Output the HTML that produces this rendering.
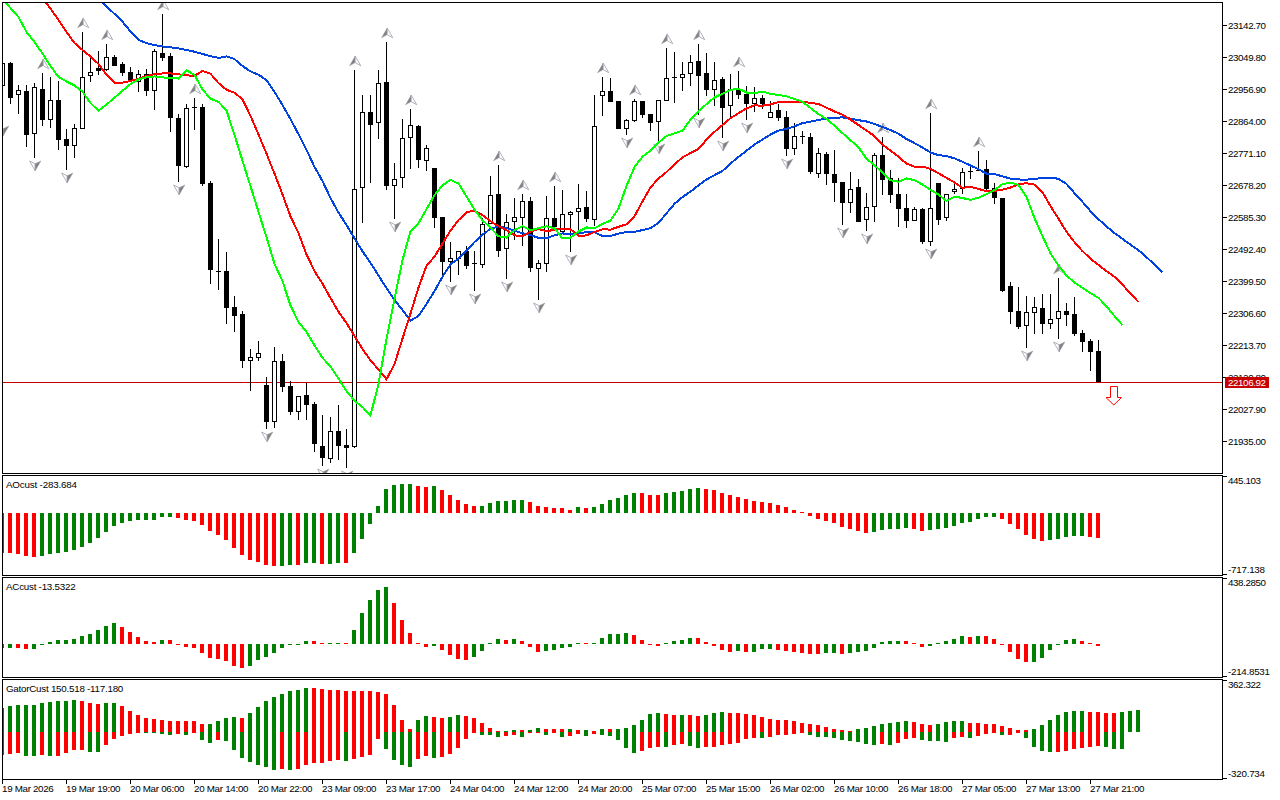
<!DOCTYPE html><html><head><meta charset="utf-8"><title>Chart</title><style>html,body{margin:0;padding:0;background:#fff;overflow:hidden}svg{display:block}text{font-family:"Liberation Sans",sans-serif;font-size:9.8px;fill:#000}</style></head><body>
<svg width="1280" height="800" viewBox="0 0 1280 800">
<rect x="0" y="0" width="1280" height="800" fill="#fff"/>
<g shape-rendering="crispEdges">
<defs><clipPath id="cm"><rect x="3" y="3" width="1219" height="470"/></clipPath><clipPath id="c1"><rect x="3" y="476" width="1219" height="99"/></clipPath><clipPath id="c2"><rect x="3" y="578" width="1219" height="99"/></clipPath><clipPath id="c3"><rect x="3" y="680" width="1219" height="99"/></clipPath></defs>
<g clip-path="url(#cm)">
<rect x="3" y="382" width="1219" height="1" fill="#c80000"/>
<g fill="#000"><rect x="2" y="60" width="1" height="63"/><rect x="0" y="63" width="5" height="23"/><rect x="1" y="64" width="3" height="21" fill="#fff"/><rect x="10" y="62" width="1" height="42"/><rect x="8" y="63" width="5" height="35"/><rect x="18" y="85" width="1" height="29"/><rect x="16" y="90" width="5" height="5"/><rect x="17" y="91" width="3" height="3" fill="#fff"/><rect x="26" y="85" width="1" height="62"/><rect x="24" y="91" width="5" height="44"/><rect x="34" y="83" width="1" height="75"/><rect x="32" y="87" width="5" height="47"/><rect x="33" y="88" width="3" height="45" fill="#fff"/><rect x="42" y="73" width="1" height="53"/><rect x="40" y="89" width="5" height="31"/><rect x="50" y="77" width="1" height="51"/><rect x="48" y="100" width="5" height="20"/><rect x="49" y="101" width="3" height="18" fill="#fff"/><rect x="58" y="81" width="1" height="69"/><rect x="56" y="100" width="5" height="40"/><rect x="66" y="129" width="1" height="41"/><rect x="64" y="139" width="5" height="7"/><rect x="74" y="124" width="1" height="34"/><rect x="72" y="128" width="5" height="18"/><rect x="73" y="129" width="3" height="16" fill="#fff"/><rect x="82" y="32" width="1" height="97"/><rect x="80" y="77" width="5" height="52"/><rect x="81" y="78" width="3" height="50" fill="#fff"/><rect x="90" y="58" width="1" height="24"/><rect x="88" y="72" width="5" height="4"/><rect x="89" y="73" width="3" height="2" fill="#fff"/><rect x="98" y="51" width="1" height="24"/><rect x="96" y="68" width="5" height="3"/><rect x="106" y="44" width="1" height="27"/><rect x="104" y="57" width="5" height="13"/><rect x="105" y="58" width="3" height="11" fill="#fff"/><rect x="114" y="55" width="1" height="11"/><rect x="112" y="57" width="5" height="9"/><rect x="122" y="62" width="1" height="14"/><rect x="120" y="64" width="5" height="9"/><rect x="130" y="67" width="1" height="13"/><rect x="128" y="72" width="5" height="8"/><rect x="138" y="70" width="1" height="22"/><rect x="136" y="74" width="5" height="8"/><rect x="137" y="75" width="3" height="6" fill="#fff"/><rect x="146" y="69" width="1" height="27"/><rect x="144" y="74" width="5" height="17"/><rect x="154" y="49" width="1" height="61"/><rect x="152" y="51" width="5" height="40"/><rect x="153" y="52" width="3" height="38" fill="#fff"/><rect x="162" y="14" width="1" height="47"/><rect x="160" y="53" width="5" height="5"/><rect x="170" y="53" width="1" height="79"/><rect x="168" y="56" width="5" height="62"/><rect x="178" y="114" width="1" height="68"/><rect x="176" y="118" width="5" height="48"/><rect x="186" y="104" width="1" height="64"/><rect x="184" y="108" width="5" height="59"/><rect x="185" y="109" width="3" height="57" fill="#fff"/><rect x="194" y="98" width="1" height="32"/><rect x="192" y="107" width="5" height="1"/><rect x="202" y="104" width="1" height="82"/><rect x="200" y="107" width="5" height="77"/><rect x="210" y="181" width="1" height="103"/><rect x="208" y="183" width="5" height="87"/><rect x="218" y="239" width="1" height="51"/><rect x="216" y="271" width="5" height="1"/><rect x="226" y="252" width="1" height="72"/><rect x="224" y="271" width="5" height="37"/><rect x="234" y="296" width="1" height="36"/><rect x="232" y="307" width="5" height="9"/><rect x="242" y="311" width="1" height="57"/><rect x="240" y="314" width="5" height="47"/><rect x="250" y="349" width="1" height="42"/><rect x="248" y="357" width="5" height="4"/><rect x="249" y="358" width="3" height="2" fill="#fff"/><rect x="258" y="341" width="1" height="20"/><rect x="256" y="353" width="5" height="5"/><rect x="257" y="354" width="3" height="3" fill="#fff"/><rect x="266" y="377" width="1" height="52"/><rect x="264" y="385" width="5" height="37"/><rect x="274" y="347" width="1" height="81"/><rect x="272" y="361" width="5" height="61"/><rect x="273" y="362" width="3" height="59" fill="#fff"/><rect x="282" y="354" width="1" height="38"/><rect x="280" y="361" width="5" height="26"/><rect x="290" y="381" width="1" height="34"/><rect x="288" y="386" width="5" height="26"/><rect x="298" y="396" width="1" height="24"/><rect x="296" y="396" width="5" height="16"/><rect x="297" y="397" width="3" height="14" fill="#fff"/><rect x="306" y="383" width="1" height="37"/><rect x="304" y="395" width="5" height="10"/><rect x="314" y="402" width="1" height="50"/><rect x="312" y="404" width="5" height="40"/><rect x="322" y="415" width="1" height="51"/><rect x="320" y="446" width="5" height="12"/><rect x="330" y="417" width="1" height="46"/><rect x="328" y="431" width="5" height="28"/><rect x="329" y="432" width="3" height="26" fill="#fff"/><rect x="338" y="405" width="1" height="55"/><rect x="336" y="431" width="5" height="15"/><rect x="346" y="429" width="1" height="39"/><rect x="344" y="445" width="5" height="3"/><rect x="354" y="70" width="1" height="378"/><rect x="352" y="189" width="5" height="258"/><rect x="353" y="190" width="3" height="256" fill="#fff"/><rect x="362" y="95" width="1" height="128"/><rect x="360" y="112" width="5" height="76"/><rect x="361" y="113" width="3" height="74" fill="#fff"/><rect x="370" y="95" width="1" height="88"/><rect x="368" y="112" width="5" height="13"/><rect x="378" y="70" width="1" height="69"/><rect x="376" y="83" width="5" height="40"/><rect x="377" y="84" width="3" height="38" fill="#fff"/><rect x="386" y="42" width="1" height="148"/><rect x="384" y="82" width="5" height="104"/><rect x="394" y="163" width="1" height="56"/><rect x="392" y="179" width="5" height="7"/><rect x="393" y="180" width="3" height="5" fill="#fff"/><rect x="402" y="119" width="1" height="69"/><rect x="400" y="138" width="5" height="40"/><rect x="401" y="139" width="3" height="38" fill="#fff"/><rect x="410" y="109" width="1" height="60"/><rect x="408" y="125" width="5" height="13"/><rect x="409" y="126" width="3" height="11" fill="#fff"/><rect x="418" y="125" width="1" height="43"/><rect x="416" y="126" width="5" height="34"/><rect x="426" y="145" width="1" height="26"/><rect x="424" y="148" width="5" height="13"/><rect x="425" y="149" width="3" height="11" fill="#fff"/><rect x="434" y="168" width="1" height="60"/><rect x="432" y="168" width="5" height="50"/><rect x="442" y="217" width="1" height="62"/><rect x="440" y="217" width="5" height="45"/><rect x="450" y="242" width="1" height="40"/><rect x="448" y="258" width="5" height="4"/><rect x="449" y="259" width="3" height="2" fill="#fff"/><rect x="458" y="251" width="1" height="24"/><rect x="456" y="251" width="5" height="8"/><rect x="457" y="252" width="3" height="6" fill="#fff"/><rect x="466" y="246" width="1" height="23"/><rect x="464" y="251" width="5" height="15"/><rect x="474" y="251" width="1" height="40"/><rect x="472" y="263" width="5" height="1"/><rect x="482" y="218" width="1" height="50"/><rect x="480" y="224" width="5" height="41"/><rect x="481" y="225" width="3" height="39" fill="#fff"/><rect x="490" y="176" width="1" height="48"/><rect x="488" y="195" width="5" height="29"/><rect x="489" y="196" width="3" height="27" fill="#fff"/><rect x="498" y="165" width="1" height="92"/><rect x="496" y="194" width="5" height="57"/><rect x="506" y="214" width="1" height="65"/><rect x="504" y="222" width="5" height="27"/><rect x="505" y="223" width="3" height="25" fill="#fff"/><rect x="514" y="198" width="1" height="42"/><rect x="512" y="217" width="5" height="5"/><rect x="513" y="218" width="3" height="3" fill="#fff"/><rect x="522" y="194" width="1" height="52"/><rect x="520" y="201" width="5" height="17"/><rect x="521" y="202" width="3" height="15" fill="#fff"/><rect x="530" y="197" width="1" height="75"/><rect x="528" y="201" width="5" height="67"/><rect x="538" y="260" width="1" height="40"/><rect x="536" y="263" width="5" height="6"/><rect x="537" y="264" width="3" height="4" fill="#fff"/><rect x="546" y="196" width="1" height="76"/><rect x="544" y="218" width="5" height="46"/><rect x="545" y="219" width="3" height="44" fill="#fff"/><rect x="554" y="186" width="1" height="41"/><rect x="552" y="218" width="5" height="9"/><rect x="562" y="190" width="1" height="42"/><rect x="560" y="214" width="5" height="18"/><rect x="561" y="215" width="3" height="16" fill="#fff"/><rect x="570" y="211" width="1" height="41"/><rect x="568" y="212" width="5" height="3"/><rect x="569" y="213" width="3" height="1" fill="#fff"/><rect x="578" y="184" width="1" height="46"/><rect x="576" y="208" width="5" height="4"/><rect x="577" y="209" width="3" height="2" fill="#fff"/><rect x="586" y="191" width="1" height="31"/><rect x="584" y="207" width="5" height="12"/><rect x="594" y="95" width="1" height="131"/><rect x="592" y="126" width="5" height="94"/><rect x="593" y="127" width="3" height="92" fill="#fff"/><rect x="602" y="77" width="1" height="39"/><rect x="600" y="91" width="5" height="5"/><rect x="601" y="92" width="3" height="3" fill="#fff"/><rect x="610" y="78" width="1" height="24"/><rect x="608" y="91" width="5" height="11"/><rect x="618" y="101" width="1" height="28"/><rect x="616" y="101" width="5" height="28"/><rect x="626" y="119" width="1" height="16"/><rect x="624" y="120" width="5" height="9"/><rect x="625" y="121" width="3" height="7" fill="#fff"/><rect x="634" y="99" width="1" height="23"/><rect x="632" y="101" width="5" height="20"/><rect x="633" y="102" width="3" height="18" fill="#fff"/><rect x="642" y="101" width="1" height="17"/><rect x="640" y="101" width="5" height="14"/><rect x="650" y="114" width="1" height="17"/><rect x="648" y="114" width="5" height="9"/><rect x="658" y="100" width="1" height="41"/><rect x="656" y="100" width="5" height="22"/><rect x="657" y="101" width="3" height="20" fill="#fff"/><rect x="666" y="48" width="1" height="53"/><rect x="664" y="78" width="5" height="23"/><rect x="665" y="79" width="3" height="21" fill="#fff"/><rect x="674" y="52" width="1" height="51"/><rect x="672" y="77" width="5" height="1"/><rect x="682" y="62" width="1" height="29"/><rect x="680" y="74" width="5" height="4"/><rect x="681" y="75" width="3" height="2" fill="#fff"/><rect x="690" y="55" width="1" height="31"/><rect x="688" y="62" width="5" height="12"/><rect x="689" y="63" width="3" height="10" fill="#fff"/><rect x="698" y="44" width="1" height="71"/><rect x="696" y="61" width="5" height="15"/><rect x="706" y="53" width="1" height="43"/><rect x="704" y="73" width="5" height="17"/><rect x="714" y="62" width="1" height="44"/><rect x="712" y="80" width="5" height="10"/><rect x="713" y="81" width="3" height="8" fill="#fff"/><rect x="722" y="77" width="1" height="61"/><rect x="720" y="79" width="5" height="29"/><rect x="730" y="74" width="1" height="43"/><rect x="728" y="89" width="5" height="17"/><rect x="729" y="90" width="3" height="15" fill="#fff"/><rect x="738" y="71" width="1" height="28"/><rect x="736" y="90" width="5" height="5"/><rect x="746" y="86" width="1" height="34"/><rect x="744" y="94" width="5" height="10"/><rect x="754" y="87" width="1" height="25"/><rect x="752" y="98" width="5" height="6"/><rect x="753" y="99" width="3" height="4" fill="#fff"/><rect x="762" y="95" width="1" height="14"/><rect x="760" y="98" width="5" height="6"/><rect x="770" y="101" width="1" height="17"/><rect x="768" y="112" width="5" height="6"/><rect x="769" y="113" width="3" height="4" fill="#fff"/><rect x="778" y="104" width="1" height="17"/><rect x="776" y="110" width="5" height="8"/><rect x="786" y="111" width="1" height="45"/><rect x="784" y="117" width="5" height="32"/><rect x="794" y="123" width="1" height="32"/><rect x="792" y="136" width="5" height="13"/><rect x="793" y="137" width="3" height="11" fill="#fff"/><rect x="802" y="131" width="1" height="13"/><rect x="800" y="136" width="5" height="1"/><rect x="810" y="133" width="1" height="41"/><rect x="808" y="137" width="5" height="35"/><rect x="818" y="148" width="1" height="30"/><rect x="816" y="153" width="5" height="21"/><rect x="817" y="154" width="3" height="19" fill="#fff"/><rect x="826" y="152" width="1" height="33"/><rect x="824" y="154" width="5" height="20"/><rect x="834" y="150" width="1" height="52"/><rect x="832" y="174" width="5" height="9"/><rect x="842" y="182" width="1" height="43"/><rect x="840" y="182" width="5" height="21"/><rect x="850" y="172" width="1" height="41"/><rect x="848" y="189" width="5" height="14"/><rect x="849" y="190" width="3" height="12" fill="#fff"/><rect x="858" y="179" width="1" height="43"/><rect x="856" y="187" width="5" height="35"/><rect x="866" y="193" width="1" height="38"/><rect x="864" y="207" width="5" height="13"/><rect x="865" y="208" width="3" height="11" fill="#fff"/><rect x="874" y="153" width="1" height="69"/><rect x="872" y="155" width="5" height="52"/><rect x="873" y="156" width="3" height="50" fill="#fff"/><rect x="882" y="137" width="1" height="58"/><rect x="880" y="155" width="5" height="25"/><rect x="890" y="170" width="1" height="33"/><rect x="888" y="178" width="5" height="17"/><rect x="898" y="178" width="1" height="49"/><rect x="896" y="194" width="5" height="15"/><rect x="906" y="194" width="1" height="34"/><rect x="904" y="208" width="5" height="13"/><rect x="914" y="207" width="1" height="14"/><rect x="912" y="209" width="5" height="12"/><rect x="913" y="210" width="3" height="10" fill="#fff"/><rect x="922" y="208" width="1" height="36"/><rect x="920" y="209" width="5" height="33"/><rect x="930" y="113" width="1" height="133"/><rect x="928" y="208" width="5" height="34"/><rect x="929" y="209" width="3" height="32" fill="#fff"/><rect x="938" y="183" width="1" height="42"/><rect x="936" y="183" width="5" height="37"/><rect x="946" y="194" width="1" height="27"/><rect x="944" y="194" width="5" height="24"/><rect x="945" y="195" width="3" height="22" fill="#fff"/><rect x="954" y="183" width="1" height="11"/><rect x="952" y="189" width="5" height="3"/><rect x="953" y="190" width="3" height="1" fill="#fff"/><rect x="962" y="168" width="1" height="26"/><rect x="960" y="172" width="5" height="17"/><rect x="961" y="173" width="3" height="15" fill="#fff"/><rect x="970" y="167" width="1" height="12"/><rect x="968" y="171" width="5" height="1"/><rect x="978" y="151" width="1" height="20"/><rect x="976" y="170" width="5" height="1"/><rect x="986" y="160" width="1" height="32"/><rect x="984" y="169" width="5" height="20"/><rect x="994" y="183" width="1" height="21"/><rect x="992" y="188" width="5" height="10"/><rect x="1002" y="198" width="1" height="94"/><rect x="1000" y="198" width="5" height="93"/><rect x="1010" y="282" width="1" height="42"/><rect x="1008" y="286" width="5" height="26"/><rect x="1018" y="287" width="1" height="42"/><rect x="1016" y="311" width="5" height="16"/><rect x="1026" y="296" width="1" height="52"/><rect x="1024" y="312" width="5" height="14"/><rect x="1025" y="313" width="3" height="12" fill="#fff"/><rect x="1034" y="297" width="1" height="37"/><rect x="1032" y="307" width="5" height="6"/><rect x="1033" y="308" width="3" height="4" fill="#fff"/><rect x="1042" y="294" width="1" height="40"/><rect x="1040" y="308" width="5" height="16"/><rect x="1050" y="294" width="1" height="35"/><rect x="1048" y="319" width="5" height="5"/><rect x="1049" y="320" width="3" height="3" fill="#fff"/><rect x="1058" y="278" width="1" height="61"/><rect x="1056" y="311" width="5" height="8"/><rect x="1057" y="312" width="3" height="6" fill="#fff"/><rect x="1066" y="303" width="1" height="23"/><rect x="1064" y="311" width="5" height="4"/><rect x="1074" y="297" width="1" height="39"/><rect x="1072" y="314" width="5" height="20"/><rect x="1082" y="330" width="1" height="22"/><rect x="1080" y="333" width="5" height="9"/><rect x="1090" y="339" width="1" height="32"/><rect x="1088" y="341" width="5" height="11"/><rect x="1098" y="340" width="1" height="42"/><rect x="1096" y="351" width="5" height="31"/></g>
<g shape-rendering="auto"><polygon points="-2.3999999999999995,126 3.2,128.8 3.2,135.8" fill="#fff" stroke="#9aa0b0" stroke-width="0.8"/><polygon points="3.2,128.8 8.8,126 3.2,135.8" fill="#808080" stroke="#9a9a9a" stroke-width="0.5"/><polygon points="29.6,161 35.2,163.8 35.2,170.8" fill="#fff" stroke="#9aa0b0" stroke-width="0.8"/><polygon points="35.2,163.8 40.800000000000004,161 35.2,170.8" fill="#808080" stroke="#9a9a9a" stroke-width="0.5"/><polygon points="43.2,59 37.6,68.8 43.2,65.6" fill="#808080" stroke="#9a9a9a" stroke-width="0.5"/><polygon points="43.2,59 43.2,65.6 48.800000000000004,68.8" fill="#fff" stroke="#9aa0b0" stroke-width="0.8"/><polygon points="61.6,173 67.2,175.8 67.2,182.8" fill="#fff" stroke="#9aa0b0" stroke-width="0.8"/><polygon points="67.2,175.8 72.8,173 67.2,182.8" fill="#808080" stroke="#9a9a9a" stroke-width="0.5"/><polygon points="83.2,18 77.60000000000001,27.8 83.2,24.6" fill="#808080" stroke="#9a9a9a" stroke-width="0.5"/><polygon points="83.2,18 83.2,24.6 88.8,27.8" fill="#fff" stroke="#9aa0b0" stroke-width="0.8"/><polygon points="107.2,30 101.60000000000001,39.8 107.2,36.6" fill="#808080" stroke="#9a9a9a" stroke-width="0.5"/><polygon points="107.2,30 107.2,36.6 112.8,39.8" fill="#fff" stroke="#9aa0b0" stroke-width="0.8"/><polygon points="163.2,0 157.6,9.8 163.2,6.6" fill="#808080" stroke="#9a9a9a" stroke-width="0.5"/><polygon points="163.2,0 163.2,6.6 168.79999999999998,9.8" fill="#fff" stroke="#9aa0b0" stroke-width="0.8"/><polygon points="173.6,185 179.2,187.8 179.2,194.8" fill="#fff" stroke="#9aa0b0" stroke-width="0.8"/><polygon points="179.2,187.8 184.79999999999998,185 179.2,194.8" fill="#808080" stroke="#9a9a9a" stroke-width="0.5"/><polygon points="195.2,84 189.6,93.8 195.2,90.6" fill="#808080" stroke="#9a9a9a" stroke-width="0.5"/><polygon points="195.2,84 195.2,90.6 200.79999999999998,93.8" fill="#fff" stroke="#9aa0b0" stroke-width="0.8"/><polygon points="261.59999999999997,432 267.2,434.8 267.2,441.8" fill="#fff" stroke="#9aa0b0" stroke-width="0.8"/><polygon points="267.2,434.8 272.8,432 267.2,441.8" fill="#808080" stroke="#9a9a9a" stroke-width="0.5"/><polygon points="317.59999999999997,469 323.2,471.8 323.2,478.8" fill="#fff" stroke="#9aa0b0" stroke-width="0.8"/><polygon points="323.2,471.8 328.8,469 323.2,478.8" fill="#808080" stroke="#9a9a9a" stroke-width="0.5"/><polygon points="341.59999999999997,471 347.2,473.8 347.2,480.8" fill="#fff" stroke="#9aa0b0" stroke-width="0.8"/><polygon points="347.2,473.8 352.8,471 347.2,480.8" fill="#808080" stroke="#9a9a9a" stroke-width="0.5"/><polygon points="355.2,56 349.59999999999997,65.8 355.2,62.6" fill="#808080" stroke="#9a9a9a" stroke-width="0.5"/><polygon points="355.2,56 355.2,62.6 360.8,65.8" fill="#fff" stroke="#9aa0b0" stroke-width="0.8"/><polygon points="387.2,28 381.59999999999997,37.8 387.2,34.6" fill="#808080" stroke="#9a9a9a" stroke-width="0.5"/><polygon points="387.2,28 387.2,34.6 392.8,37.8" fill="#fff" stroke="#9aa0b0" stroke-width="0.8"/><polygon points="389.59999999999997,222 395.2,224.8 395.2,231.8" fill="#fff" stroke="#9aa0b0" stroke-width="0.8"/><polygon points="395.2,224.8 400.8,222 395.2,231.8" fill="#808080" stroke="#9a9a9a" stroke-width="0.5"/><polygon points="411.2,95 405.59999999999997,104.8 411.2,101.6" fill="#808080" stroke="#9a9a9a" stroke-width="0.5"/><polygon points="411.2,95 411.2,101.6 416.8,104.8" fill="#fff" stroke="#9aa0b0" stroke-width="0.8"/><polygon points="445.59999999999997,285 451.2,287.8 451.2,294.8" fill="#fff" stroke="#9aa0b0" stroke-width="0.8"/><polygon points="451.2,287.8 456.8,285 451.2,294.8" fill="#808080" stroke="#9a9a9a" stroke-width="0.5"/><polygon points="469.59999999999997,294 475.2,296.8 475.2,303.8" fill="#fff" stroke="#9aa0b0" stroke-width="0.8"/><polygon points="475.2,296.8 480.8,294 475.2,303.8" fill="#808080" stroke="#9a9a9a" stroke-width="0.5"/><polygon points="499.2,151 493.59999999999997,160.8 499.2,157.6" fill="#808080" stroke="#9a9a9a" stroke-width="0.5"/><polygon points="499.2,151 499.2,157.6 504.8,160.8" fill="#fff" stroke="#9aa0b0" stroke-width="0.8"/><polygon points="501.59999999999997,282 507.2,284.8 507.2,291.8" fill="#fff" stroke="#9aa0b0" stroke-width="0.8"/><polygon points="507.2,284.8 512.8,282 507.2,291.8" fill="#808080" stroke="#9a9a9a" stroke-width="0.5"/><polygon points="523.2,180 517.6,189.8 523.2,186.6" fill="#808080" stroke="#9a9a9a" stroke-width="0.5"/><polygon points="523.2,180 523.2,186.6 528.8000000000001,189.8" fill="#fff" stroke="#9aa0b0" stroke-width="0.8"/><polygon points="533.6,303 539.2,305.8 539.2,312.8" fill="#fff" stroke="#9aa0b0" stroke-width="0.8"/><polygon points="539.2,305.8 544.8000000000001,303 539.2,312.8" fill="#808080" stroke="#9a9a9a" stroke-width="0.5"/><polygon points="555.2,172 549.6,181.8 555.2,178.6" fill="#808080" stroke="#9a9a9a" stroke-width="0.5"/><polygon points="555.2,172 555.2,178.6 560.8000000000001,181.8" fill="#fff" stroke="#9aa0b0" stroke-width="0.8"/><polygon points="565.6,255 571.2,257.8 571.2,264.8" fill="#fff" stroke="#9aa0b0" stroke-width="0.8"/><polygon points="571.2,257.8 576.8000000000001,255 571.2,264.8" fill="#808080" stroke="#9a9a9a" stroke-width="0.5"/><polygon points="603.2,63 597.6,72.8 603.2,69.6" fill="#808080" stroke="#9a9a9a" stroke-width="0.5"/><polygon points="603.2,63 603.2,69.6 608.8000000000001,72.8" fill="#fff" stroke="#9aa0b0" stroke-width="0.8"/><polygon points="621.6,138 627.2,140.8 627.2,147.8" fill="#fff" stroke="#9aa0b0" stroke-width="0.8"/><polygon points="627.2,140.8 632.8000000000001,138 627.2,147.8" fill="#808080" stroke="#9a9a9a" stroke-width="0.5"/><polygon points="635.2,85 629.6,94.8 635.2,91.6" fill="#808080" stroke="#9a9a9a" stroke-width="0.5"/><polygon points="635.2,85 635.2,91.6 640.8000000000001,94.8" fill="#fff" stroke="#9aa0b0" stroke-width="0.8"/><polygon points="653.6,144 659.2,146.8 659.2,153.8" fill="#fff" stroke="#9aa0b0" stroke-width="0.8"/><polygon points="659.2,146.8 664.8000000000001,144 659.2,153.8" fill="#808080" stroke="#9a9a9a" stroke-width="0.5"/><polygon points="667.2,34 661.6,43.8 667.2,40.6" fill="#808080" stroke="#9a9a9a" stroke-width="0.5"/><polygon points="667.2,34 667.2,40.6 672.8000000000001,43.8" fill="#fff" stroke="#9aa0b0" stroke-width="0.8"/><polygon points="699.2,30 693.6,39.8 699.2,36.6" fill="#808080" stroke="#9a9a9a" stroke-width="0.5"/><polygon points="699.2,30 699.2,36.6 704.8000000000001,39.8" fill="#fff" stroke="#9aa0b0" stroke-width="0.8"/><polygon points="693.6,118 699.2,120.8 699.2,127.8" fill="#fff" stroke="#9aa0b0" stroke-width="0.8"/><polygon points="699.2,120.8 704.8000000000001,118 699.2,127.8" fill="#808080" stroke="#9a9a9a" stroke-width="0.5"/><polygon points="717.6,141 723.2,143.8 723.2,150.8" fill="#fff" stroke="#9aa0b0" stroke-width="0.8"/><polygon points="723.2,143.8 728.8000000000001,141 723.2,150.8" fill="#808080" stroke="#9a9a9a" stroke-width="0.5"/><polygon points="739.2,57 733.6,66.8 739.2,63.6" fill="#808080" stroke="#9a9a9a" stroke-width="0.5"/><polygon points="739.2,57 739.2,63.6 744.8000000000001,66.8" fill="#fff" stroke="#9aa0b0" stroke-width="0.8"/><polygon points="741.6,123 747.2,125.8 747.2,132.8" fill="#fff" stroke="#9aa0b0" stroke-width="0.8"/><polygon points="747.2,125.8 752.8000000000001,123 747.2,132.8" fill="#808080" stroke="#9a9a9a" stroke-width="0.5"/><polygon points="781.6,159 787.2,161.8 787.2,168.8" fill="#fff" stroke="#9aa0b0" stroke-width="0.8"/><polygon points="787.2,161.8 792.8000000000001,159 787.2,168.8" fill="#808080" stroke="#9a9a9a" stroke-width="0.5"/><polygon points="837.6,228 843.2,230.8 843.2,237.8" fill="#fff" stroke="#9aa0b0" stroke-width="0.8"/><polygon points="843.2,230.8 848.8000000000001,228 843.2,237.8" fill="#808080" stroke="#9a9a9a" stroke-width="0.5"/><polygon points="861.6,234 867.2,236.8 867.2,243.8" fill="#fff" stroke="#9aa0b0" stroke-width="0.8"/><polygon points="867.2,236.8 872.8000000000001,234 867.2,243.8" fill="#808080" stroke="#9a9a9a" stroke-width="0.5"/><polygon points="883.2,123 877.6,132.8 883.2,129.6" fill="#808080" stroke="#9a9a9a" stroke-width="0.5"/><polygon points="883.2,123 883.2,129.6 888.8000000000001,132.8" fill="#fff" stroke="#9aa0b0" stroke-width="0.8"/><polygon points="931.2,99 925.6,108.8 931.2,105.6" fill="#808080" stroke="#9a9a9a" stroke-width="0.5"/><polygon points="931.2,99 931.2,105.6 936.8000000000001,108.8" fill="#fff" stroke="#9aa0b0" stroke-width="0.8"/><polygon points="925.6,249 931.2,251.8 931.2,258.8" fill="#fff" stroke="#9aa0b0" stroke-width="0.8"/><polygon points="931.2,251.8 936.8000000000001,249 931.2,258.8" fill="#808080" stroke="#9a9a9a" stroke-width="0.5"/><polygon points="979.2,137 973.6,146.8 979.2,143.6" fill="#808080" stroke="#9a9a9a" stroke-width="0.5"/><polygon points="979.2,137 979.2,143.6 984.8000000000001,146.8" fill="#fff" stroke="#9aa0b0" stroke-width="0.8"/><polygon points="1021.6,351 1027.2,353.8 1027.2,360.8" fill="#fff" stroke="#9aa0b0" stroke-width="0.8"/><polygon points="1027.2,353.8 1032.8,351 1027.2,360.8" fill="#808080" stroke="#9a9a9a" stroke-width="0.5"/><polygon points="1059.2,264 1053.6000000000001,273.8 1059.2,270.6" fill="#808080" stroke="#9a9a9a" stroke-width="0.5"/><polygon points="1059.2,264 1059.2,270.6 1064.8,273.8" fill="#fff" stroke="#9aa0b0" stroke-width="0.8"/><polygon points="1053.6000000000001,342 1059.2,344.8 1059.2,351.8" fill="#fff" stroke="#9aa0b0" stroke-width="0.8"/><polygon points="1059.2,344.8 1064.8,342 1059.2,351.8" fill="#808080" stroke="#9a9a9a" stroke-width="0.5"/></g>
<polyline points="58.5,-52.74 66.5,-41.64 74.5,-32.07 82.5,-21.96 90.5,-11.35 98.5,-1.22 106.5,6.52 114.5,13.89 122.5,21.70 130.5,31.52 138.5,39.93 146.5,43.07 154.5,45.14 162.5,46.50 170.5,47.35 178.5,48.36 186.5,49.93 194.5,51.73 202.5,53.96 210.5,56.14 218.5,57.92 226.5,56.35 234.5,59.13 242.5,65.98 250.5,71.38 258.5,74.65 266.5,80.09 274.5,91.80 282.5,105.07 290.5,119.14 298.5,134.11 306.5,149.91 314.5,166.83 322.5,180.99 330.5,198.06 338.5,212.62 346.5,224.95 354.5,238.26 362.5,251.32 370.5,262.86 378.5,275.48 386.5,288.16 394.5,299.83 402.5,310.03 410.5,320.67 418.5,315.93 426.5,303.85 434.5,291.15 442.5,276.78 450.5,264.41 458.5,258.76 466.5,250.65 474.5,242.05 482.5,234.70 490.5,228.80 498.5,226.42 506.5,228.10 514.5,230.71 522.5,233.19 530.5,235.06 538.5,237.82 546.5,238.18 554.5,235.25 562.5,233.38 570.5,234.40 578.5,233.21 586.5,232.19 594.5,232.40 602.5,236.06 610.5,235.93 618.5,233.68 626.5,231.94 634.5,231.93 642.5,230.02 650.5,228.23 658.5,223.02 666.5,213.28 674.5,203.83 682.5,197.02 690.5,191.64 698.5,185.39 706.5,179.54 714.5,175.16 722.5,170.95 730.5,163.52 738.5,156.90 746.5,150.71 754.5,144.53 762.5,139.52 770.5,134.50 778.5,130.61 786.5,128.86 794.5,126.32 802.5,123.16 810.5,121.60 818.5,119.89 826.5,118.51 834.5,117.83 842.5,117.39 850.5,118.62 858.5,120.18 866.5,121.51 874.5,123.96 882.5,126.95 890.5,130.14 898.5,133.66 906.5,139.03 914.5,143.13 922.5,147.54 930.5,152.49 938.5,155.17 946.5,156.00 954.5,158.34 962.5,161.73 970.5,165.51 978.5,169.23 986.5,173.59 994.5,174.03 1002.5,176.33 1010.5,178.70 1018.5,179.47 1026.5,179.61 1034.5,179.08 1042.5,177.66 1050.5,177.56 1058.5,178.81 1066.5,183.93 1074.5,193.11 1082.5,201.94 1090.5,211.17 1098.5,219.19 1106.5,226.49 1114.5,233.03 1122.5,238.83 1130.5,244.67 1138.5,250.19 1146.5,257.15 1154.5,264.68 1162.5,272.11" fill="none" stroke="#0044dd" stroke-width="2"/>
<polyline points="34.5,-15.37 42.5,-2.01 50.5,8.60 58.5,19.94 66.5,31.94 74.5,43.00 82.5,50.04 90.5,56.58 98.5,63.94 106.5,74.61 114.5,82.89 122.5,82.62 130.5,81.04 138.5,78.77 146.5,76.12 154.5,74.16 162.5,73.49 170.5,73.46 178.5,74.37 186.5,75.36 194.5,75.86 202.5,71.06 210.5,73.74 218.5,83.04 226.5,89.69 234.5,92.72 242.5,99.29 250.5,115.92 258.5,134.47 266.5,153.66 274.5,173.68 282.5,194.40 290.5,216.33 298.5,233.15 306.5,254.38 314.5,271.00 322.5,283.73 330.5,298.02 338.5,311.77 346.5,322.97 354.5,335.96 362.5,349.00 370.5,360.37 378.5,369.37 386.5,379.25 394.5,364.22 402.5,338.55 410.5,313.58 418.5,287.43 426.5,266.00 434.5,256.61 442.5,243.71 450.5,230.60 458.5,220.08 466.5,212.31 474.5,210.51 482.5,215.24 490.5,221.09 498.5,226.32 506.5,230.21 514.5,235.30 522.5,236.20 530.5,231.69 538.5,229.09 546.5,231.29 554.5,229.75 562.5,228.53 570.5,229.32 578.5,235.65 586.5,235.48 594.5,231.89 602.5,229.29 610.5,229.61 618.5,226.78 626.5,224.29 634.5,216.30 642.5,201.32 650.5,187.46 658.5,178.44 666.5,172.02 674.5,164.32 682.5,157.45 690.5,153.08 698.5,149.01 706.5,139.68 714.5,131.90 722.5,124.96 730.5,118.14 738.5,113.29 746.5,108.42 754.5,105.36 762.5,105.67 770.5,104.44 778.5,102.04 786.5,102.15 794.5,101.80 802.5,101.82 810.5,102.81 818.5,103.96 826.5,107.64 834.5,111.55 842.5,114.78 850.5,119.61 858.5,125.01 866.5,130.44 874.5,136.13 882.5,144.54 890.5,150.52 898.5,156.75 906.5,163.64 914.5,166.61 922.5,166.52 930.5,169.01 938.5,173.19 946.5,177.90 954.5,182.40 962.5,187.84 970.5,186.78 978.5,188.92 986.5,191.18 994.5,190.88 1002.5,189.68 1010.5,187.57 1018.5,184.20 1026.5,183.21 1034.5,184.54 1042.5,192.14 1050.5,206.03 1058.5,218.77 1066.5,231.66 1074.5,242.14 1082.5,251.13 1090.5,258.68 1098.5,264.89 1106.5,271.13 1114.5,276.79 1122.5,284.78 1130.5,293.56 1138.5,302.02" fill="none" stroke="#ff0000" stroke-width="2"/>
<polyline points="2.5,-1.00 10.5,8.00 18.5,17.00 26.5,31.90 34.5,42.09 42.5,53.54 50.5,66.02 58.5,76.90 66.5,81.39 74.5,85.57 82.5,91.55 90.5,103.11 98.5,110.66 106.5,104.66 114.5,97.73 122.5,90.76 130.5,84.12 138.5,79.39 146.5,77.26 154.5,76.47 162.5,77.33 170.5,78.32 178.5,78.52 186.5,70.31 194.5,74.75 202.5,89.43 210.5,98.79 218.5,101.82 226.5,110.50 234.5,134.87 242.5,160.77 250.5,186.20 258.5,211.72 266.5,237.27 274.5,263.78 282.5,281.21 290.5,305.56 298.5,321.93 306.5,332.10 314.5,345.29 322.5,357.84 330.5,366.54 338.5,378.61 346.5,390.95 354.5,400.74 362.5,407.07 370.5,415.34 378.5,384.07 386.5,339.03 394.5,298.99 402.5,260.06 410.5,231.24 418.5,223.17 426.5,209.22 434.5,195.14 442.5,185.41 450.5,179.91 458.5,183.51 466.5,196.47 474.5,209.59 482.5,220.26 490.5,227.70 498.5,236.34 506.5,237.57 514.5,230.08 522.5,226.25 530.5,230.34 538.5,228.05 546.5,226.44 554.5,228.12 562.5,238.49 570.5,237.66 578.5,231.47 586.5,227.40 594.5,228.29 602.5,224.03 610.5,220.59 618.5,208.55 626.5,186.12 634.5,167.00 642.5,156.66 650.5,150.74 658.5,142.68 666.5,136.01 674.5,133.31 682.5,130.75 690.5,119.47 698.5,111.07 706.5,104.13 714.5,97.39 722.5,93.78 730.5,89.89 738.5,88.69 746.5,92.53 754.5,93.18 762.5,91.60 770.5,93.85 778.5,94.95 786.5,96.35 794.5,99.03 802.5,101.64 810.5,107.99 818.5,114.17 826.5,118.82 834.5,125.73 842.5,133.15 850.5,140.21 858.5,147.36 866.5,158.56 874.5,165.33 882.5,172.35 890.5,180.25 898.5,181.68 906.5,178.52 914.5,180.11 922.5,184.57 930.5,189.83 938.5,194.65 946.5,200.90 954.5,196.59 962.5,198.05 970.5,199.85 978.5,197.63 986.5,194.35 994.5,190.04 1002.5,184.15 1010.5,182.59 1018.5,184.84 1026.5,196.94 1034.5,218.21 1042.5,236.16 1050.5,253.31 1058.5,265.73 1066.5,275.40 1074.5,282.63 1082.5,287.77 1090.5,293.18 1098.5,297.82 1106.5,306.41 1114.5,316.13 1122.5,325.15" fill="none" stroke="#00ff00" stroke-width="2"/>
</g>
<polygon points="1110.5,386.5 1117.5,386.5 1117.5,397.5 1121.5,397.5 1113.8,405 1106,397.5 1110.5,397.5" fill="#fff" stroke="#ff0000" stroke-width="1" shape-rendering="auto"/>
<rect x="2" y="2" width="1221" height="1" fill="#000"/>
<rect x="2" y="473" width="1221" height="1" fill="#000"/>
<rect x="2" y="2" width="1" height="472" fill="#000"/>
<rect x="1222" y="2" width="1" height="472" fill="#000"/>
<rect x="2" y="475" width="1221" height="1" fill="#000"/>
<rect x="2" y="575" width="1221" height="1" fill="#000"/>
<rect x="2" y="475" width="1" height="101" fill="#000"/>
<rect x="1222" y="475" width="1" height="101" fill="#000"/>
<rect x="2" y="577" width="1221" height="1" fill="#000"/>
<rect x="2" y="677" width="1221" height="1" fill="#000"/>
<rect x="2" y="577" width="1" height="101" fill="#000"/>
<rect x="1222" y="577" width="1" height="101" fill="#000"/>
<rect x="2" y="679" width="1221" height="1" fill="#000"/>
<rect x="2" y="779" width="1221" height="1" fill="#000"/>
<rect x="2" y="679" width="1" height="101" fill="#000"/>
<rect x="1222" y="679" width="1" height="101" fill="#000"/>
<g clip-path="url(#c1)"><rect x="0" y="513" width="4" height="40" fill="#ff0000"/><rect x="8" y="513" width="4" height="40" fill="#ff0000"/><rect x="16" y="513" width="4" height="41" fill="#ff0000"/><rect x="24" y="513" width="4" height="43" fill="#ff0000"/><rect x="32" y="513" width="4" height="44" fill="#ff0000"/><rect x="40" y="513" width="4" height="43" fill="#008000"/><rect x="48" y="513" width="4" height="41" fill="#008000"/><rect x="56" y="513" width="4" height="40" fill="#008000"/><rect x="64" y="513" width="4" height="39" fill="#008000"/><rect x="72" y="513" width="4" height="37" fill="#008000"/><rect x="80" y="513" width="4" height="34" fill="#008000"/><rect x="88" y="513" width="4" height="30" fill="#008000"/><rect x="96" y="513" width="4" height="25" fill="#008000"/><rect x="104" y="513" width="4" height="19" fill="#008000"/><rect x="112" y="513" width="4" height="13" fill="#008000"/><rect x="120" y="513" width="4" height="10" fill="#008000"/><rect x="128" y="513" width="4" height="8" fill="#008000"/><rect x="136" y="513" width="4" height="7" fill="#008000"/><rect x="144" y="513" width="4" height="7" fill="#008000"/><rect x="152" y="513" width="4" height="7" fill="#008000"/><rect x="160" y="513" width="4" height="4" fill="#008000"/><rect x="168" y="513" width="4" height="4" fill="#008000"/><rect x="176" y="513" width="4" height="5" fill="#ff0000"/><rect x="184" y="513" width="4" height="7" fill="#ff0000"/><rect x="192" y="513" width="4" height="8" fill="#ff0000"/><rect x="200" y="513" width="4" height="12" fill="#ff0000"/><rect x="208" y="513" width="4" height="18" fill="#ff0000"/><rect x="216" y="513" width="4" height="22" fill="#ff0000"/><rect x="224" y="513" width="4" height="27" fill="#ff0000"/><rect x="232" y="513" width="4" height="35" fill="#ff0000"/><rect x="240" y="513" width="4" height="42" fill="#ff0000"/><rect x="248" y="513" width="4" height="47" fill="#ff0000"/><rect x="256" y="513" width="4" height="49" fill="#ff0000"/><rect x="264" y="513" width="4" height="52" fill="#ff0000"/><rect x="272" y="513" width="4" height="53" fill="#ff0000"/><rect x="280" y="513" width="4" height="53" fill="#008000"/><rect x="288" y="513" width="4" height="52" fill="#008000"/><rect x="296" y="513" width="4" height="52" fill="#ff0000"/><rect x="304" y="513" width="4" height="50" fill="#008000"/><rect x="312" y="513" width="4" height="50" fill="#008000"/><rect x="320" y="513" width="4" height="51" fill="#ff0000"/><rect x="328" y="513" width="4" height="51" fill="#008000"/><rect x="336" y="513" width="4" height="50" fill="#008000"/><rect x="344" y="513" width="4" height="50" fill="#ff0000"/><rect x="352" y="513" width="4" height="40" fill="#008000"/><rect x="360" y="513" width="4" height="26" fill="#008000"/><rect x="368" y="513" width="4" height="11" fill="#008000"/><rect x="376" y="506" width="4" height="7" fill="#008000"/><rect x="384" y="489" width="4" height="24" fill="#008000"/><rect x="392" y="485" width="4" height="28" fill="#008000"/><rect x="400" y="484" width="4" height="29" fill="#008000"/><rect x="408" y="484" width="4" height="29" fill="#008000"/><rect x="416" y="486" width="4" height="27" fill="#ff0000"/><rect x="424" y="487" width="4" height="26" fill="#ff0000"/><rect x="432" y="486" width="4" height="27" fill="#008000"/><rect x="440" y="490" width="4" height="23" fill="#ff0000"/><rect x="448" y="495" width="4" height="18" fill="#ff0000"/><rect x="456" y="500" width="4" height="13" fill="#ff0000"/><rect x="464" y="504" width="4" height="9" fill="#ff0000"/><rect x="472" y="506" width="4" height="7" fill="#ff0000"/><rect x="480" y="506" width="4" height="7" fill="#008000"/><rect x="488" y="503" width="4" height="10" fill="#008000"/><rect x="496" y="501" width="4" height="12" fill="#008000"/><rect x="504" y="501" width="4" height="12" fill="#008000"/><rect x="512" y="500" width="4" height="13" fill="#008000"/><rect x="520" y="500" width="4" height="13" fill="#008000"/><rect x="528" y="502" width="4" height="11" fill="#ff0000"/><rect x="536" y="506" width="4" height="7" fill="#ff0000"/><rect x="544" y="507" width="4" height="6" fill="#ff0000"/><rect x="552" y="508" width="4" height="5" fill="#ff0000"/><rect x="560" y="508" width="4" height="5" fill="#ff0000"/><rect x="568" y="510" width="4" height="3" fill="#ff0000"/><rect x="576" y="507" width="4" height="6" fill="#008000"/><rect x="584" y="508" width="4" height="5" fill="#ff0000"/><rect x="592" y="507" width="4" height="6" fill="#008000"/><rect x="600" y="504" width="4" height="9" fill="#008000"/><rect x="608" y="500" width="4" height="13" fill="#008000"/><rect x="616" y="498" width="4" height="15" fill="#008000"/><rect x="624" y="495" width="4" height="18" fill="#008000"/><rect x="632" y="493" width="4" height="20" fill="#008000"/><rect x="640" y="493" width="4" height="20" fill="#ff0000"/><rect x="648" y="495" width="4" height="18" fill="#ff0000"/><rect x="656" y="495" width="4" height="18" fill="#ff0000"/><rect x="664" y="493" width="4" height="20" fill="#008000"/><rect x="672" y="492" width="4" height="21" fill="#008000"/><rect x="680" y="491" width="4" height="22" fill="#008000"/><rect x="688" y="489" width="4" height="24" fill="#008000"/><rect x="696" y="488" width="4" height="25" fill="#008000"/><rect x="704" y="489" width="4" height="24" fill="#ff0000"/><rect x="712" y="490" width="4" height="23" fill="#ff0000"/><rect x="720" y="493" width="4" height="20" fill="#ff0000"/><rect x="728" y="495" width="4" height="18" fill="#ff0000"/><rect x="736" y="497" width="4" height="16" fill="#ff0000"/><rect x="744" y="499" width="4" height="14" fill="#ff0000"/><rect x="752" y="501" width="4" height="12" fill="#ff0000"/><rect x="760" y="502" width="4" height="11" fill="#ff0000"/><rect x="768" y="503" width="4" height="10" fill="#ff0000"/><rect x="776" y="505" width="4" height="8" fill="#ff0000"/><rect x="784" y="507" width="4" height="6" fill="#ff0000"/><rect x="792" y="510" width="4" height="3" fill="#ff0000"/><rect x="800" y="512" width="4" height="1" fill="#ff0000"/><rect x="808" y="513" width="4" height="3" fill="#ff0000"/><rect x="816" y="513" width="4" height="6" fill="#ff0000"/><rect x="824" y="513" width="4" height="8" fill="#ff0000"/><rect x="832" y="513" width="4" height="10" fill="#ff0000"/><rect x="840" y="513" width="4" height="14" fill="#ff0000"/><rect x="848" y="513" width="4" height="16" fill="#ff0000"/><rect x="856" y="513" width="4" height="18" fill="#ff0000"/><rect x="864" y="513" width="4" height="20" fill="#ff0000"/><rect x="872" y="513" width="4" height="19" fill="#008000"/><rect x="880" y="513" width="4" height="17" fill="#008000"/><rect x="888" y="513" width="4" height="16" fill="#008000"/><rect x="896" y="513" width="4" height="16" fill="#008000"/><rect x="904" y="513" width="4" height="15" fill="#008000"/><rect x="912" y="513" width="4" height="16" fill="#ff0000"/><rect x="920" y="513" width="4" height="18" fill="#ff0000"/><rect x="928" y="513" width="4" height="17" fill="#008000"/><rect x="936" y="513" width="4" height="16" fill="#008000"/><rect x="944" y="513" width="4" height="15" fill="#008000"/><rect x="952" y="513" width="4" height="13" fill="#008000"/><rect x="960" y="513" width="4" height="10" fill="#008000"/><rect x="968" y="513" width="4" height="9" fill="#008000"/><rect x="976" y="513" width="4" height="6" fill="#008000"/><rect x="984" y="513" width="4" height="4" fill="#008000"/><rect x="992" y="513" width="4" height="4" fill="#008000"/><rect x="1000" y="513" width="4" height="6" fill="#ff0000"/><rect x="1008" y="513" width="4" height="11" fill="#ff0000"/><rect x="1016" y="513" width="4" height="16" fill="#ff0000"/><rect x="1024" y="513" width="4" height="22" fill="#ff0000"/><rect x="1032" y="513" width="4" height="26" fill="#ff0000"/><rect x="1040" y="513" width="4" height="28" fill="#ff0000"/><rect x="1048" y="513" width="4" height="27" fill="#008000"/><rect x="1056" y="513" width="4" height="26" fill="#008000"/><rect x="1064" y="513" width="4" height="24" fill="#008000"/><rect x="1072" y="513" width="4" height="23" fill="#008000"/><rect x="1080" y="513" width="4" height="23" fill="#008000"/><rect x="1088" y="513" width="4" height="24" fill="#ff0000"/><rect x="1096" y="513" width="4" height="25" fill="#ff0000"/></g>
<g clip-path="url(#c2)"><rect x="0" y="644" width="4" height="4" fill="#ff0000"/><rect x="8" y="644" width="4" height="4" fill="#008000"/><rect x="16" y="644" width="4" height="4" fill="#ff0000"/><rect x="24" y="644" width="4" height="5" fill="#ff0000"/><rect x="32" y="644" width="4" height="5" fill="#008000"/><rect x="40" y="644" width="4" height="1" fill="#008000"/><rect x="48" y="642" width="4" height="2" fill="#008000"/><rect x="56" y="640" width="4" height="4" fill="#008000"/><rect x="64" y="640" width="4" height="4" fill="#008000"/><rect x="72" y="639" width="4" height="5" fill="#008000"/><rect x="80" y="636" width="4" height="8" fill="#008000"/><rect x="88" y="634" width="4" height="10" fill="#008000"/><rect x="96" y="630" width="4" height="14" fill="#008000"/><rect x="104" y="626" width="4" height="18" fill="#008000"/><rect x="112" y="623" width="4" height="21" fill="#008000"/><rect x="120" y="627" width="4" height="17" fill="#ff0000"/><rect x="128" y="632" width="4" height="12" fill="#ff0000"/><rect x="136" y="637" width="4" height="7" fill="#ff0000"/><rect x="144" y="641" width="4" height="3" fill="#ff0000"/><rect x="152" y="642" width="4" height="2" fill="#ff0000"/><rect x="160" y="640" width="4" height="4" fill="#008000"/><rect x="168" y="640" width="4" height="4" fill="#ff0000"/><rect x="176" y="644" width="4" height="1" fill="#ff0000"/><rect x="184" y="644" width="4" height="3" fill="#ff0000"/><rect x="192" y="644" width="4" height="4" fill="#ff0000"/><rect x="200" y="644" width="4" height="9" fill="#ff0000"/><rect x="208" y="644" width="4" height="14" fill="#ff0000"/><rect x="216" y="644" width="4" height="15" fill="#ff0000"/><rect x="224" y="644" width="4" height="17" fill="#ff0000"/><rect x="232" y="644" width="4" height="22" fill="#ff0000"/><rect x="240" y="644" width="4" height="24" fill="#ff0000"/><rect x="248" y="644" width="4" height="22" fill="#008000"/><rect x="256" y="644" width="4" height="16" fill="#008000"/><rect x="264" y="644" width="4" height="13" fill="#008000"/><rect x="272" y="644" width="4" height="9" fill="#008000"/><rect x="280" y="644" width="4" height="4" fill="#008000"/><rect x="288" y="644" width="4" height="1" fill="#008000"/><rect x="296" y="644" width="4" height="1" fill="#008000"/><rect x="304" y="641" width="4" height="3" fill="#008000"/><rect x="312" y="641" width="4" height="3" fill="#ff0000"/><rect x="320" y="643" width="4" height="1" fill="#ff0000"/><rect x="328" y="643" width="4" height="1" fill="#008000"/><rect x="336" y="643" width="4" height="1" fill="#008000"/><rect x="344" y="643" width="4" height="1" fill="#ff0000"/><rect x="352" y="630" width="4" height="14" fill="#008000"/><rect x="360" y="613" width="4" height="31" fill="#008000"/><rect x="368" y="600" width="4" height="44" fill="#008000"/><rect x="376" y="590" width="4" height="54" fill="#008000"/><rect x="384" y="587" width="4" height="57" fill="#008000"/><rect x="392" y="603" width="4" height="41" fill="#ff0000"/><rect x="400" y="620" width="4" height="24" fill="#ff0000"/><rect x="408" y="633" width="4" height="11" fill="#ff0000"/><rect x="416" y="643" width="4" height="1" fill="#ff0000"/><rect x="424" y="644" width="4" height="3" fill="#ff0000"/><rect x="432" y="644" width="4" height="2" fill="#008000"/><rect x="440" y="644" width="4" height="6" fill="#ff0000"/><rect x="448" y="644" width="4" height="11" fill="#ff0000"/><rect x="456" y="644" width="4" height="15" fill="#ff0000"/><rect x="464" y="644" width="4" height="16" fill="#ff0000"/><rect x="472" y="644" width="4" height="13" fill="#008000"/><rect x="480" y="644" width="4" height="7" fill="#008000"/><rect x="488" y="643" width="4" height="1" fill="#008000"/><rect x="496" y="639" width="4" height="5" fill="#008000"/><rect x="504" y="640" width="4" height="4" fill="#ff0000"/><rect x="512" y="639" width="4" height="5" fill="#008000"/><rect x="520" y="641" width="4" height="3" fill="#ff0000"/><rect x="528" y="644" width="4" height="3" fill="#ff0000"/><rect x="536" y="644" width="4" height="8" fill="#ff0000"/><rect x="544" y="644" width="4" height="7" fill="#008000"/><rect x="552" y="644" width="4" height="6" fill="#008000"/><rect x="560" y="644" width="4" height="4" fill="#008000"/><rect x="568" y="644" width="4" height="3" fill="#008000"/><rect x="576" y="643" width="4" height="1" fill="#008000"/><rect x="584" y="643" width="4" height="1" fill="#ff0000"/><rect x="592" y="643" width="4" height="1" fill="#008000"/><rect x="600" y="638" width="4" height="6" fill="#008000"/><rect x="608" y="634" width="4" height="10" fill="#008000"/><rect x="616" y="634" width="4" height="10" fill="#008000"/><rect x="624" y="633" width="4" height="11" fill="#008000"/><rect x="632" y="635" width="4" height="9" fill="#ff0000"/><rect x="640" y="640" width="4" height="4" fill="#ff0000"/><rect x="648" y="644" width="4" height="1" fill="#ff0000"/><rect x="656" y="644" width="4" height="2" fill="#ff0000"/><rect x="664" y="643" width="4" height="1" fill="#008000"/><rect x="672" y="641" width="4" height="3" fill="#008000"/><rect x="680" y="640" width="4" height="4" fill="#008000"/><rect x="688" y="638" width="4" height="6" fill="#008000"/><rect x="696" y="638" width="4" height="6" fill="#ff0000"/><rect x="704" y="642" width="4" height="2" fill="#ff0000"/><rect x="712" y="644" width="4" height="2" fill="#ff0000"/><rect x="720" y="644" width="4" height="6" fill="#ff0000"/><rect x="728" y="644" width="4" height="8" fill="#ff0000"/><rect x="736" y="644" width="4" height="7" fill="#008000"/><rect x="744" y="644" width="4" height="8" fill="#ff0000"/><rect x="752" y="644" width="4" height="8" fill="#008000"/><rect x="760" y="644" width="4" height="5" fill="#008000"/><rect x="768" y="644" width="4" height="5" fill="#008000"/><rect x="776" y="644" width="4" height="6" fill="#ff0000"/><rect x="784" y="644" width="4" height="7" fill="#ff0000"/><rect x="792" y="644" width="4" height="8" fill="#ff0000"/><rect x="800" y="644" width="4" height="9" fill="#ff0000"/><rect x="808" y="644" width="4" height="10" fill="#ff0000"/><rect x="816" y="644" width="4" height="10" fill="#ff0000"/><rect x="824" y="644" width="4" height="9" fill="#008000"/><rect x="832" y="644" width="4" height="9" fill="#008000"/><rect x="840" y="644" width="4" height="10" fill="#ff0000"/><rect x="848" y="644" width="4" height="9" fill="#008000"/><rect x="856" y="644" width="4" height="8" fill="#008000"/><rect x="864" y="644" width="4" height="7" fill="#008000"/><rect x="872" y="644" width="4" height="4" fill="#008000"/><rect x="880" y="642" width="4" height="2" fill="#008000"/><rect x="888" y="641" width="4" height="3" fill="#008000"/><rect x="896" y="641" width="4" height="3" fill="#008000"/><rect x="904" y="641" width="4" height="3" fill="#ff0000"/><rect x="912" y="643" width="4" height="1" fill="#ff0000"/><rect x="920" y="644" width="4" height="3" fill="#ff0000"/><rect x="928" y="644" width="4" height="2" fill="#008000"/><rect x="936" y="643" width="4" height="1" fill="#008000"/><rect x="944" y="641" width="4" height="3" fill="#008000"/><rect x="952" y="639" width="4" height="5" fill="#008000"/><rect x="960" y="636" width="4" height="8" fill="#008000"/><rect x="968" y="637" width="4" height="7" fill="#ff0000"/><rect x="976" y="636" width="4" height="8" fill="#008000"/><rect x="984" y="636" width="4" height="8" fill="#ff0000"/><rect x="992" y="639" width="4" height="5" fill="#ff0000"/><rect x="1000" y="644" width="4" height="1" fill="#ff0000"/><rect x="1008" y="644" width="4" height="8" fill="#ff0000"/><rect x="1016" y="644" width="4" height="15" fill="#ff0000"/><rect x="1024" y="644" width="4" height="18" fill="#ff0000"/><rect x="1032" y="644" width="4" height="18" fill="#008000"/><rect x="1040" y="644" width="4" height="14" fill="#008000"/><rect x="1048" y="644" width="4" height="6" fill="#008000"/><rect x="1056" y="644" width="4" height="1" fill="#008000"/><rect x="1064" y="640" width="4" height="4" fill="#008000"/><rect x="1072" y="639" width="4" height="5" fill="#008000"/><rect x="1080" y="641" width="4" height="3" fill="#ff0000"/><rect x="1088" y="643" width="4" height="1" fill="#ff0000"/><rect x="1096" y="644" width="4" height="2" fill="#ff0000"/></g>
<g clip-path="url(#c3)"><rect x="0" y="708" width="4" height="24" fill="#ff0000"/><rect x="8" y="706" width="4" height="26" fill="#008000"/><rect x="16" y="705" width="4" height="27" fill="#008000"/><rect x="24" y="705" width="4" height="27" fill="#008000"/><rect x="32" y="705" width="4" height="27" fill="#008000"/><rect x="40" y="703" width="4" height="29" fill="#008000"/><rect x="48" y="702" width="4" height="30" fill="#008000"/><rect x="56" y="701" width="4" height="31" fill="#008000"/><rect x="64" y="701" width="4" height="31" fill="#008000"/><rect x="72" y="700" width="4" height="32" fill="#008000"/><rect x="80" y="701" width="4" height="31" fill="#ff0000"/><rect x="88" y="703" width="4" height="29" fill="#ff0000"/><rect x="96" y="704" width="4" height="28" fill="#ff0000"/><rect x="104" y="703" width="4" height="29" fill="#008000"/><rect x="112" y="703" width="4" height="29" fill="#008000"/><rect x="120" y="706" width="4" height="26" fill="#ff0000"/><rect x="128" y="711" width="4" height="21" fill="#ff0000"/><rect x="136" y="715" width="4" height="17" fill="#ff0000"/><rect x="144" y="718" width="4" height="14" fill="#ff0000"/><rect x="152" y="719" width="4" height="13" fill="#ff0000"/><rect x="160" y="720" width="4" height="12" fill="#ff0000"/><rect x="168" y="721" width="4" height="11" fill="#ff0000"/><rect x="176" y="721" width="4" height="11" fill="#ff0000"/><rect x="184" y="721" width="4" height="11" fill="#ff0000"/><rect x="192" y="721" width="4" height="11" fill="#ff0000"/><rect x="200" y="724" width="4" height="8" fill="#ff0000"/><rect x="208" y="724" width="4" height="8" fill="#008000"/><rect x="216" y="721" width="4" height="11" fill="#008000"/><rect x="224" y="718" width="4" height="14" fill="#008000"/><rect x="232" y="717" width="4" height="15" fill="#008000"/><rect x="240" y="718" width="4" height="14" fill="#ff0000"/><rect x="248" y="713" width="4" height="19" fill="#008000"/><rect x="256" y="707" width="4" height="25" fill="#008000"/><rect x="264" y="701" width="4" height="31" fill="#008000"/><rect x="272" y="697" width="4" height="35" fill="#008000"/><rect x="280" y="694" width="4" height="38" fill="#008000"/><rect x="288" y="691" width="4" height="41" fill="#008000"/><rect x="296" y="690" width="4" height="42" fill="#008000"/><rect x="304" y="688" width="4" height="44" fill="#008000"/><rect x="312" y="688" width="4" height="44" fill="#ff0000"/><rect x="320" y="689" width="4" height="43" fill="#ff0000"/><rect x="328" y="690" width="4" height="42" fill="#ff0000"/><rect x="336" y="690" width="4" height="42" fill="#ff0000"/><rect x="344" y="691" width="4" height="41" fill="#ff0000"/><rect x="352" y="691" width="4" height="41" fill="#ff0000"/><rect x="360" y="691" width="4" height="41" fill="#ff0000"/><rect x="368" y="691" width="4" height="41" fill="#ff0000"/><rect x="376" y="692" width="4" height="40" fill="#ff0000"/><rect x="384" y="694" width="4" height="38" fill="#ff0000"/><rect x="392" y="705" width="4" height="27" fill="#ff0000"/><rect x="400" y="720" width="4" height="12" fill="#ff0000"/><rect x="408" y="729" width="4" height="3" fill="#ff0000"/><rect x="416" y="720" width="4" height="12" fill="#008000"/><rect x="424" y="716" width="4" height="16" fill="#008000"/><rect x="432" y="717" width="4" height="15" fill="#ff0000"/><rect x="440" y="718" width="4" height="14" fill="#ff0000"/><rect x="448" y="717" width="4" height="15" fill="#008000"/><rect x="456" y="715" width="4" height="17" fill="#008000"/><rect x="464" y="716" width="4" height="16" fill="#ff0000"/><rect x="472" y="718" width="4" height="14" fill="#ff0000"/><rect x="480" y="723" width="4" height="9" fill="#ff0000"/><rect x="488" y="728" width="4" height="4" fill="#ff0000"/><rect x="496" y="731" width="4" height="1" fill="#ff0000"/><rect x="504" y="731" width="4" height="1" fill="#008000"/><rect x="512" y="730" width="4" height="2" fill="#008000"/><rect x="520" y="730" width="4" height="2" fill="#ff0000"/><rect x="528" y="730" width="4" height="2" fill="#008000"/><rect x="536" y="728" width="4" height="4" fill="#008000"/><rect x="544" y="729" width="4" height="3" fill="#ff0000"/><rect x="552" y="729" width="4" height="3" fill="#ff0000"/><rect x="560" y="729" width="4" height="3" fill="#ff0000"/><rect x="568" y="729" width="4" height="3" fill="#008000"/><rect x="576" y="730" width="4" height="2" fill="#ff0000"/><rect x="584" y="730" width="4" height="2" fill="#008000"/><rect x="592" y="731" width="4" height="1" fill="#ff0000"/><rect x="600" y="729" width="4" height="3" fill="#008000"/><rect x="608" y="729" width="4" height="3" fill="#ff0000"/><rect x="616" y="729" width="4" height="3" fill="#008000"/><rect x="624" y="728" width="4" height="4" fill="#008000"/><rect x="632" y="725" width="4" height="7" fill="#008000"/><rect x="640" y="720" width="4" height="12" fill="#008000"/><rect x="648" y="714" width="4" height="18" fill="#008000"/><rect x="656" y="713" width="4" height="19" fill="#008000"/><rect x="664" y="714" width="4" height="18" fill="#ff0000"/><rect x="672" y="715" width="4" height="17" fill="#ff0000"/><rect x="680" y="715" width="4" height="17" fill="#008000"/><rect x="688" y="715" width="4" height="17" fill="#ff0000"/><rect x="696" y="716" width="4" height="16" fill="#ff0000"/><rect x="704" y="715" width="4" height="17" fill="#008000"/><rect x="712" y="713" width="4" height="19" fill="#008000"/><rect x="720" y="712" width="4" height="20" fill="#008000"/><rect x="728" y="713" width="4" height="19" fill="#ff0000"/><rect x="736" y="713" width="4" height="19" fill="#ff0000"/><rect x="744" y="714" width="4" height="18" fill="#ff0000"/><rect x="752" y="715" width="4" height="17" fill="#ff0000"/><rect x="760" y="717" width="4" height="15" fill="#ff0000"/><rect x="768" y="719" width="4" height="13" fill="#ff0000"/><rect x="776" y="720" width="4" height="12" fill="#ff0000"/><rect x="784" y="720" width="4" height="12" fill="#ff0000"/><rect x="792" y="721" width="4" height="11" fill="#ff0000"/><rect x="800" y="723" width="4" height="9" fill="#ff0000"/><rect x="808" y="724" width="4" height="8" fill="#ff0000"/><rect x="816" y="725" width="4" height="7" fill="#ff0000"/><rect x="824" y="727" width="4" height="5" fill="#ff0000"/><rect x="832" y="729" width="4" height="3" fill="#ff0000"/><rect x="840" y="730" width="4" height="2" fill="#ff0000"/><rect x="848" y="731" width="4" height="1" fill="#ff0000"/><rect x="856" y="729" width="4" height="3" fill="#008000"/><rect x="864" y="728" width="4" height="4" fill="#008000"/><rect x="872" y="726" width="4" height="6" fill="#008000"/><rect x="880" y="724" width="4" height="8" fill="#008000"/><rect x="888" y="723" width="4" height="9" fill="#008000"/><rect x="896" y="722" width="4" height="10" fill="#008000"/><rect x="904" y="721" width="4" height="11" fill="#008000"/><rect x="912" y="722" width="4" height="10" fill="#ff0000"/><rect x="920" y="724" width="4" height="8" fill="#ff0000"/><rect x="928" y="725" width="4" height="7" fill="#ff0000"/><rect x="936" y="724" width="4" height="8" fill="#008000"/><rect x="944" y="722" width="4" height="10" fill="#008000"/><rect x="952" y="721" width="4" height="11" fill="#008000"/><rect x="960" y="721" width="4" height="11" fill="#008000"/><rect x="968" y="723" width="4" height="9" fill="#ff0000"/><rect x="976" y="723" width="4" height="9" fill="#ff0000"/><rect x="984" y="724" width="4" height="8" fill="#ff0000"/><rect x="992" y="724" width="4" height="8" fill="#ff0000"/><rect x="1000" y="726" width="4" height="6" fill="#ff0000"/><rect x="1008" y="728" width="4" height="4" fill="#ff0000"/><rect x="1016" y="730" width="4" height="2" fill="#ff0000"/><rect x="1024" y="730" width="4" height="2" fill="#ff0000"/><rect x="1032" y="729" width="4" height="3" fill="#008000"/><rect x="1040" y="725" width="4" height="7" fill="#008000"/><rect x="1048" y="720" width="4" height="12" fill="#008000"/><rect x="1056" y="715" width="4" height="17" fill="#008000"/><rect x="1064" y="712" width="4" height="20" fill="#008000"/><rect x="1072" y="711" width="4" height="21" fill="#008000"/><rect x="1080" y="711" width="4" height="21" fill="#008000"/><rect x="1088" y="712" width="4" height="20" fill="#ff0000"/><rect x="1096" y="712" width="4" height="20" fill="#ff0000"/><rect x="1104" y="713" width="4" height="19" fill="#ff0000"/><rect x="1112" y="713" width="4" height="19" fill="#ff0000"/><rect x="1120" y="712" width="4" height="20" fill="#008000"/><rect x="1128" y="711" width="4" height="21" fill="#008000"/><rect x="1136" y="710" width="4" height="22" fill="#008000"/><rect x="0" y="732" width="4" height="23" fill="#ff0000"/><rect x="8" y="732" width="4" height="22" fill="#ff0000"/><rect x="16" y="732" width="4" height="21" fill="#ff0000"/><rect x="24" y="732" width="4" height="24" fill="#008000"/><rect x="32" y="732" width="4" height="24" fill="#008000"/><rect x="40" y="732" width="4" height="23" fill="#ff0000"/><rect x="48" y="732" width="4" height="24" fill="#008000"/><rect x="56" y="732" width="4" height="24" fill="#ff0000"/><rect x="64" y="732" width="4" height="21" fill="#ff0000"/><rect x="72" y="732" width="4" height="18" fill="#ff0000"/><rect x="80" y="732" width="4" height="18" fill="#ff0000"/><rect x="88" y="732" width="4" height="20" fill="#008000"/><rect x="96" y="732" width="4" height="20" fill="#008000"/><rect x="104" y="732" width="4" height="13" fill="#ff0000"/><rect x="112" y="732" width="4" height="7" fill="#ff0000"/><rect x="120" y="732" width="4" height="4" fill="#ff0000"/><rect x="128" y="732" width="4" height="2" fill="#ff0000"/><rect x="136" y="732" width="4" height="1" fill="#ff0000"/><rect x="144" y="732" width="4" height="1" fill="#008000"/><rect x="152" y="732" width="4" height="1" fill="#008000"/><rect x="160" y="732" width="4" height="2" fill="#008000"/><rect x="168" y="732" width="4" height="3" fill="#008000"/><rect x="176" y="732" width="4" height="2" fill="#ff0000"/><rect x="184" y="732" width="4" height="3" fill="#008000"/><rect x="192" y="732" width="4" height="1" fill="#ff0000"/><rect x="200" y="732" width="4" height="8" fill="#008000"/><rect x="208" y="732" width="4" height="11" fill="#008000"/><rect x="216" y="732" width="4" height="8" fill="#ff0000"/><rect x="224" y="732" width="4" height="9" fill="#008000"/><rect x="232" y="732" width="4" height="18" fill="#008000"/><rect x="240" y="732" width="4" height="26" fill="#008000"/><rect x="248" y="732" width="4" height="30" fill="#008000"/><rect x="256" y="732" width="4" height="33" fill="#008000"/><rect x="264" y="732" width="4" height="35" fill="#008000"/><rect x="272" y="732" width="4" height="38" fill="#008000"/><rect x="280" y="732" width="4" height="37" fill="#ff0000"/><rect x="288" y="732" width="4" height="38" fill="#008000"/><rect x="296" y="732" width="4" height="37" fill="#ff0000"/><rect x="304" y="732" width="4" height="33" fill="#ff0000"/><rect x="312" y="732" width="4" height="31" fill="#ff0000"/><rect x="320" y="732" width="4" height="31" fill="#ff0000"/><rect x="328" y="732" width="4" height="29" fill="#ff0000"/><rect x="336" y="732" width="4" height="28" fill="#ff0000"/><rect x="344" y="732" width="4" height="29" fill="#008000"/><rect x="352" y="732" width="4" height="27" fill="#ff0000"/><rect x="360" y="732" width="4" height="25" fill="#ff0000"/><rect x="368" y="732" width="4" height="23" fill="#ff0000"/><rect x="376" y="732" width="4" height="7" fill="#ff0000"/><rect x="384" y="732" width="4" height="17" fill="#008000"/><rect x="392" y="732" width="4" height="28" fill="#008000"/><rect x="400" y="732" width="4" height="33" fill="#008000"/><rect x="408" y="732" width="4" height="35" fill="#008000"/><rect x="416" y="732" width="4" height="27" fill="#ff0000"/><rect x="424" y="732" width="4" height="24" fill="#ff0000"/><rect x="432" y="732" width="4" height="26" fill="#008000"/><rect x="440" y="732" width="4" height="25" fill="#ff0000"/><rect x="448" y="732" width="4" height="22" fill="#ff0000"/><rect x="456" y="732" width="4" height="16" fill="#ff0000"/><rect x="464" y="732" width="4" height="7" fill="#ff0000"/><rect x="472" y="732" width="4" height="1" fill="#ff0000"/><rect x="480" y="732" width="4" height="3" fill="#008000"/><rect x="488" y="732" width="4" height="3" fill="#008000"/><rect x="496" y="732" width="4" height="5" fill="#008000"/><rect x="504" y="732" width="4" height="4" fill="#ff0000"/><rect x="512" y="732" width="4" height="3" fill="#ff0000"/><rect x="520" y="732" width="4" height="5" fill="#008000"/><rect x="528" y="732" width="4" height="1" fill="#ff0000"/><rect x="536" y="732" width="4" height="1" fill="#ff0000"/><rect x="544" y="732" width="4" height="3" fill="#008000"/><rect x="552" y="732" width="4" height="1" fill="#ff0000"/><rect x="560" y="732" width="4" height="5" fill="#008000"/><rect x="568" y="732" width="4" height="4" fill="#ff0000"/><rect x="576" y="732" width="4" height="2" fill="#ff0000"/><rect x="584" y="732" width="4" height="4" fill="#008000"/><rect x="592" y="732" width="4" height="2" fill="#ff0000"/><rect x="600" y="732" width="4" height="3" fill="#008000"/><rect x="608" y="732" width="4" height="4" fill="#008000"/><rect x="616" y="732" width="4" height="8" fill="#008000"/><rect x="624" y="732" width="4" height="16" fill="#008000"/><rect x="632" y="732" width="4" height="21" fill="#008000"/><rect x="640" y="732" width="4" height="19" fill="#ff0000"/><rect x="648" y="732" width="4" height="16" fill="#ff0000"/><rect x="656" y="732" width="4" height="15" fill="#ff0000"/><rect x="664" y="732" width="4" height="15" fill="#008000"/><rect x="672" y="732" width="4" height="13" fill="#ff0000"/><rect x="680" y="732" width="4" height="12" fill="#ff0000"/><rect x="688" y="732" width="4" height="14" fill="#008000"/><rect x="696" y="732" width="4" height="16" fill="#008000"/><rect x="704" y="732" width="4" height="15" fill="#ff0000"/><rect x="712" y="732" width="4" height="15" fill="#ff0000"/><rect x="720" y="732" width="4" height="13" fill="#ff0000"/><rect x="728" y="732" width="4" height="12" fill="#ff0000"/><rect x="736" y="732" width="4" height="11" fill="#ff0000"/><rect x="744" y="732" width="4" height="7" fill="#ff0000"/><rect x="752" y="732" width="4" height="6" fill="#ff0000"/><rect x="760" y="732" width="4" height="6" fill="#008000"/><rect x="768" y="732" width="4" height="5" fill="#ff0000"/><rect x="776" y="732" width="4" height="3" fill="#ff0000"/><rect x="784" y="732" width="4" height="3" fill="#ff0000"/><rect x="792" y="732" width="4" height="2" fill="#ff0000"/><rect x="800" y="732" width="4" height="1" fill="#ff0000"/><rect x="808" y="732" width="4" height="3" fill="#008000"/><rect x="816" y="732" width="4" height="5" fill="#008000"/><rect x="824" y="732" width="4" height="5" fill="#008000"/><rect x="832" y="732" width="4" height="6" fill="#008000"/><rect x="840" y="732" width="4" height="8" fill="#008000"/><rect x="848" y="732" width="4" height="9" fill="#008000"/><rect x="856" y="732" width="4" height="10" fill="#008000"/><rect x="864" y="732" width="4" height="12" fill="#008000"/><rect x="872" y="732" width="4" height="13" fill="#008000"/><rect x="880" y="732" width="4" height="12" fill="#ff0000"/><rect x="888" y="732" width="4" height="13" fill="#008000"/><rect x="896" y="732" width="4" height="11" fill="#ff0000"/><rect x="904" y="732" width="4" height="7" fill="#ff0000"/><rect x="912" y="732" width="4" height="6" fill="#ff0000"/><rect x="920" y="732" width="4" height="8" fill="#008000"/><rect x="928" y="732" width="4" height="9" fill="#008000"/><rect x="936" y="732" width="4" height="9" fill="#008000"/><rect x="944" y="732" width="4" height="10" fill="#008000"/><rect x="952" y="732" width="4" height="6" fill="#ff0000"/><rect x="960" y="732" width="4" height="5" fill="#ff0000"/><rect x="968" y="732" width="4" height="6" fill="#008000"/><rect x="976" y="732" width="4" height="4" fill="#ff0000"/><rect x="984" y="732" width="4" height="2" fill="#ff0000"/><rect x="992" y="732" width="4" height="1" fill="#ff0000"/><rect x="1000" y="732" width="4" height="3" fill="#008000"/><rect x="1008" y="732" width="4" height="3" fill="#ff0000"/><rect x="1016" y="732" width="4" height="1" fill="#ff0000"/><rect x="1024" y="732" width="4" height="6" fill="#008000"/><rect x="1032" y="732" width="4" height="15" fill="#008000"/><rect x="1040" y="732" width="4" height="19" fill="#008000"/><rect x="1048" y="732" width="4" height="20" fill="#008000"/><rect x="1056" y="732" width="4" height="20" fill="#ff0000"/><rect x="1064" y="732" width="4" height="19" fill="#ff0000"/><rect x="1072" y="732" width="4" height="17" fill="#ff0000"/><rect x="1080" y="732" width="4" height="16" fill="#ff0000"/><rect x="1088" y="732" width="4" height="15" fill="#ff0000"/><rect x="1096" y="732" width="4" height="14" fill="#ff0000"/><rect x="1104" y="732" width="4" height="15" fill="#008000"/><rect x="1112" y="732" width="4" height="17" fill="#008000"/><rect x="1120" y="732" width="4" height="17" fill="#008000"/></g>
<rect x="1223" y="25" width="4" height="1" fill="#000"/><rect x="1223" y="57" width="4" height="1" fill="#000"/><rect x="1223" y="89" width="4" height="1" fill="#000"/><rect x="1223" y="121" width="4" height="1" fill="#000"/><rect x="1223" y="153" width="4" height="1" fill="#000"/><rect x="1223" y="185" width="4" height="1" fill="#000"/><rect x="1223" y="217" width="4" height="1" fill="#000"/><rect x="1223" y="249" width="4" height="1" fill="#000"/><rect x="1223" y="281" width="4" height="1" fill="#000"/><rect x="1223" y="313" width="4" height="1" fill="#000"/><rect x="1223" y="345" width="4" height="1" fill="#000"/><rect x="1223" y="377" width="4" height="1" fill="#000"/><rect x="1223" y="409" width="4" height="1" fill="#000"/><rect x="1223" y="441" width="4" height="1" fill="#000"/><rect x="1223" y="476" width="4" height="1" fill="#000"/><rect x="1223" y="574" width="4" height="1" fill="#000"/><rect x="1223" y="578" width="4" height="1" fill="#000"/><rect x="1223" y="676" width="4" height="1" fill="#000"/><rect x="1223" y="680" width="4" height="1" fill="#000"/><rect x="1223" y="778" width="4" height="1" fill="#000"/><rect x="2" y="780" width="1" height="4" fill="#000"/><rect x="66" y="780" width="1" height="4" fill="#000"/><rect x="130" y="780" width="1" height="4" fill="#000"/><rect x="194" y="780" width="1" height="4" fill="#000"/><rect x="258" y="780" width="1" height="4" fill="#000"/><rect x="322" y="780" width="1" height="4" fill="#000"/><rect x="386" y="780" width="1" height="4" fill="#000"/><rect x="450" y="780" width="1" height="4" fill="#000"/><rect x="514" y="780" width="1" height="4" fill="#000"/><rect x="578" y="780" width="1" height="4" fill="#000"/><rect x="642" y="780" width="1" height="4" fill="#000"/><rect x="706" y="780" width="1" height="4" fill="#000"/><rect x="770" y="780" width="1" height="4" fill="#000"/><rect x="834" y="780" width="1" height="4" fill="#000"/><rect x="898" y="780" width="1" height="4" fill="#000"/><rect x="962" y="780" width="1" height="4" fill="#000"/><rect x="1026" y="780" width="1" height="4" fill="#000"/><rect x="1090" y="780" width="1" height="4" fill="#000"/>
</g>
<text x="1228" y="29" textLength="38" lengthAdjust="spacing">23142.70</text><text x="1228" y="61" textLength="38" lengthAdjust="spacing">23049.80</text><text x="1228" y="93" textLength="38" lengthAdjust="spacing">22956.90</text><text x="1228" y="125" textLength="38" lengthAdjust="spacing">22864.00</text><text x="1228" y="157" textLength="38" lengthAdjust="spacing">22771.10</text><text x="1228" y="189" textLength="38" lengthAdjust="spacing">22678.20</text><text x="1228" y="221" textLength="38" lengthAdjust="spacing">22585.30</text><text x="1228" y="253" textLength="38" lengthAdjust="spacing">22492.40</text><text x="1228" y="285" textLength="38" lengthAdjust="spacing">22399.50</text><text x="1228" y="317" textLength="38" lengthAdjust="spacing">22306.60</text><text x="1228" y="349" textLength="38" lengthAdjust="spacing">22213.70</text><text x="1228" y="381" textLength="38" lengthAdjust="spacing">22120.80</text><text x="1228" y="413" textLength="38" lengthAdjust="spacing">22027.90</text><text x="1228" y="445" textLength="38" lengthAdjust="spacing">21935.00</text><text x="1228" y="484" textLength="33" lengthAdjust="spacing">445.103</text><text x="1228" y="586" textLength="38" lengthAdjust="spacing">438.2850</text><text x="1228" y="688" textLength="33" lengthAdjust="spacing">362.322</text><text x="1228" y="573" textLength="37" lengthAdjust="spacing">-717.138</text><text x="1228" y="675" textLength="42" lengthAdjust="spacing">-214.8531</text><text x="1228" y="777" textLength="37" lengthAdjust="spacing">-320.734</text><text x="2" y="792" textLength="51.8" lengthAdjust="spacing">19 Mar 2026</text><text x="66" y="792" textLength="54.5" lengthAdjust="spacing">19 Mar 19:00</text><text x="130" y="792" textLength="54.5" lengthAdjust="spacing">20 Mar 06:00</text><text x="194" y="792" textLength="54.5" lengthAdjust="spacing">20 Mar 14:00</text><text x="258" y="792" textLength="54.5" lengthAdjust="spacing">20 Mar 22:00</text><text x="322" y="792" textLength="54.5" lengthAdjust="spacing">23 Mar 09:00</text><text x="386" y="792" textLength="54.5" lengthAdjust="spacing">23 Mar 17:00</text><text x="450" y="792" textLength="54.5" lengthAdjust="spacing">24 Mar 04:00</text><text x="514" y="792" textLength="54.5" lengthAdjust="spacing">24 Mar 12:00</text><text x="578" y="792" textLength="54.5" lengthAdjust="spacing">24 Mar 20:00</text><text x="642" y="792" textLength="54.5" lengthAdjust="spacing">25 Mar 07:00</text><text x="706" y="792" textLength="54.5" lengthAdjust="spacing">25 Mar 15:00</text><text x="770" y="792" textLength="54.5" lengthAdjust="spacing">26 Mar 02:00</text><text x="834" y="792" textLength="54.5" lengthAdjust="spacing">26 Mar 10:00</text><text x="898" y="792" textLength="54.5" lengthAdjust="spacing">26 Mar 18:00</text><text x="962" y="792" textLength="54.5" lengthAdjust="spacing">27 Mar 05:00</text><text x="1026" y="792" textLength="54.5" lengthAdjust="spacing">27 Mar 13:00</text><text x="1090" y="792" textLength="54.5" lengthAdjust="spacing">27 Mar 21:00</text><text x="6" y="488" textLength="71" lengthAdjust="spacing">AOcust -283.684</text><text x="6" y="590" textLength="69.6" lengthAdjust="spacing">ACcust -13.5322</text><text x="6" y="692" textLength="117.3" lengthAdjust="spacing">GatorCust 150.518 -117.180</text>
<rect x="1225" y="377" width="44" height="11" fill="#c80000" shape-rendering="crispEdges"/>
<text x="1228" y="386" textLength="38" lengthAdjust="spacing" style="fill:#fff">22106.92</text>
</svg></body></html>
